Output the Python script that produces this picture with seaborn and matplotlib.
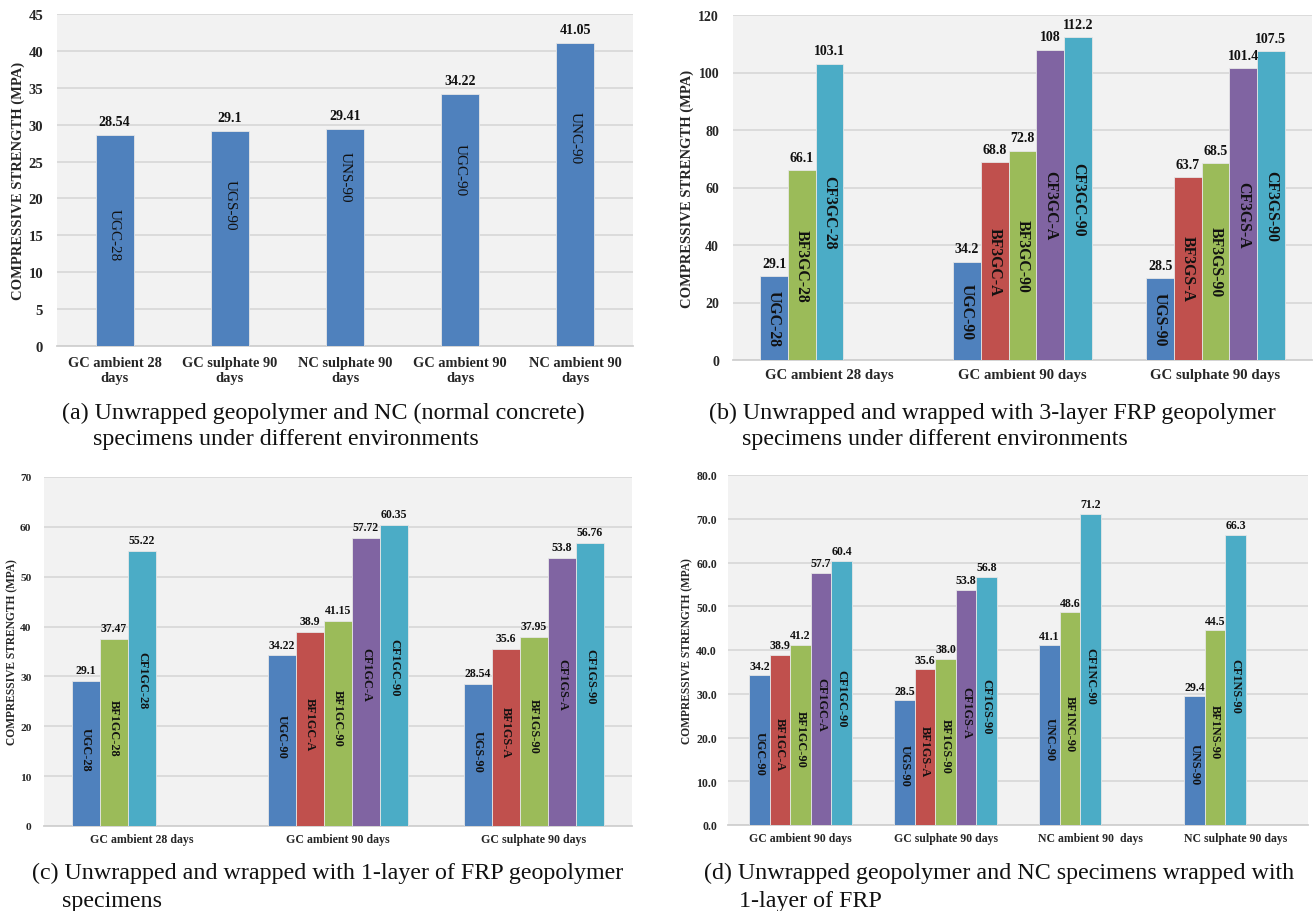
import matplotlib
matplotlib.use("Agg")
import pandas as pd
import matplotlib.pyplot as plt
import seaborn as sns
from matplotlib.ticker import MultipleLocator, FormatStrFormatter


# Data

a_groups = ["GC ambient 28\ndays", "GC sulphate 90\ndays", "NC sulphate 90\ndays",
            "GC ambient 90\ndays", "NC ambient 90\ndays"]
a_names = [["UGC-28"], ["UGS-90"], ["UNS-90"], ["UGC-90"], ["UNC-90"]]
a_values = [[28.54], [29.1], [29.41], [34.22], [41.05]]

b_groups = ["GC ambient 28 days", "GC ambient 90 days", "GC sulphate 90 days"]
b_names = [["UGC-28", "BF3GC-28", "CF3GC-28"],
           ["UGC-90", "BF3GC-A", "BF3GC-90", "CF3GC-A", "CF3GC-90"],
           ["UGS-90", "BF3GS-A", "BF3GS-90", "CF3GS-A", "CF3GS-90"]]
b_values = [[29.1, 66.1, 103.1],
            [34.2, 68.8, 72.8, 108, 112.2],
            [28.5, 63.7, 68.5, 101.4, 107.5]]

c_groups = ["GC ambient 28 days", "GC ambient 90 days", "GC sulphate 90 days"]
c_names = [["UGC-28", "BF1GC-28", "CF1GC-28"],
           ["UGC-90", "BF1GC-A", "BF1GC-90", "CF1GC-A", "CF1GC-90"],
           ["UGS-90", "BF1GS-A", "BF1GS-90", "CF1GS-A", "CF1GS-90"]]
c_values = [[29.1, 37.47, 55.22],
            [34.22, 38.9, 41.15, 57.72, 60.35],
            [28.54, 35.6, 37.95, 53.8, 56.76]]

d_groups = ["GC ambient 90 days", "GC sulphate 90 days", "NC ambient 90  days", "NC sulphate 90 days"]
d_names = [["UGC-90", "BF1GC-A", "BF1GC-90", "CF1GC-A", "CF1GC-90"],
           ["UGS-90", "BF1GS-A", "BF1GS-90", "CF1GS-A", "CF1GS-90"],
           ["UNC-90", "BF1NC-90", "CF1NC-90"],
           ["UNS-90", "BF1NS-90", "CF1NS-90"]]
d_values = [[34.2, 38.9, 41.2, 57.7, 60.4],
            [28.5, 35.6, 38.0, 53.8, 56.8],
            [41.1, 48.6, 71.2],
            [29.4, 44.5, 66.3]]

captions = [
    ["(a) Unwrapped geopolymer and NC (normal concrete)", "specimens under different environments"],
    ["(b) Unwrapped and wrapped with 3-layer FRP geopolymer", "specimens under different environments"],
    ["(c) Unwrapped and wrapped with 1-layer of FRP geopolymer", "specimens"],
    ["(d) Unwrapped geopolymer and NC specimens wrapped with", "1-layer of FRP"],
]

colors = {"U": "#4F81BD", "BF-A": "#C0504D", "BF": "#9BBB59", "CF-A": "#8064A2", "CF": "#4BACC6"}


def kind(name):
    if name.startswith("U"):
        return "U"
    base = name[:2]
    return base + "-A" if name.endswith("-A") else base


# Style

sns.set_style("whitegrid", {"axes.facecolor": "#F2F2F2", "grid.color": "#D9D9D9",
                            "axes.edgecolor": "#D0D0D0"})
plt.rcParams["font.family"] = ["Liberation Serif", "DejaVu Serif"]

W, H = 1315, 912
fig = plt.figure(figsize=(W / 100, H / 100), dpi=100)


def make_axes(l, r, t, b):
    return fig.add_axes([l / W, 1 - b / H, (r - l) / W, (b - t) / H])


def draw_panel(ax, groups, names, values, nslots, width, ymax, ystep, yfmt,
               fs_tick_y, fs_tick_x, fs_ylab, fs_val, fs_name, name_weight,
               val_off, name_pos, ylab_x, xpad, ypad, val_fmt):
    rows = []
    for gi, (g, ns, vs) in enumerate(zip(groups, names, values)):
        for si, (n, v) in enumerate(zip(ns, vs)):
            rows.append({"gi": gi, "group": g, "slot": f"s{si}", "name": n,
                         "value": v, "color": colors[kind(n)]})
    df = pd.DataFrame(rows)
    slots = [f"s{i}" for i in range(nslots)]
    sns.barplot(data=df, x="group", y="value", hue="slot", order=groups,
                hue_order=slots, palette=["#4F81BD"] * nslots, width=width,
                gap=0, dodge=True, saturation=1, legend=False, ax=ax,
                edgecolor="#E6E6E6", linewidth=0.6, zorder=3)

    # recolour each bar and put the labels on it
    for cont, s in zip(ax.containers, slots):
        sub = df[df["slot"] == s].sort_values("gi")
        for patch, row in zip(cont, sub.itertuples()):
            patch.set_facecolor(row.color)
            cx = patch.get_x() + patch.get_width() / 2
            h = patch.get_height()
            ax.annotate(val_fmt(row.value), (cx, h), xytext=(0, val_off),
                        textcoords="offset points", ha="center", va="bottom",
                        fontsize=fs_val, fontweight="bold", color="#111111")
            frac = name_pos[row.gi] if isinstance(name_pos, list) else name_pos
            ax.text(cx, h * frac, row.name, rotation=270, ha="center", va="center",
                    fontsize=fs_name, fontweight=name_weight, color="#111111",
                    zorder=4)

    ax.set_ylim(0, ymax)
    ax.yaxis.set_major_locator(MultipleLocator(ystep))
    ax.yaxis.set_major_formatter(FormatStrFormatter(yfmt))
    ax.grid(axis="x", visible=False)
    ax.grid(axis="y", linewidth=1.3)
    ax.set_axisbelow(True)
    for side in ["left", "right", "top"]:
        ax.spines[side].set_visible(False)
    ax.spines["bottom"].set_linewidth(1.3)
    ax.tick_params(axis="both", length=0)
    ax.tick_params(axis="x", labelsize=fs_tick_x, pad=xpad)
    ax.tick_params(axis="y", labelsize=fs_tick_y, pad=ypad)
    for lab in ax.get_xticklabels() + ax.get_yticklabels():
        lab.set_fontweight("bold")
    ax.set_xlabel("")
    ax.set_ylabel("COMPRESSIVE STRENGTH (MPA)", fontsize=fs_ylab, fontweight="bold",
                  va="center")
    ax.yaxis.set_label_coords(ylab_x, 0.5)


def fmt_g(v):
    return f"{v:g}"


def fmt_1(v):
    return f"{v:.1f}"


# (a)
ax_a = make_axes(57, 633, 15, 347)
draw_panel(ax_a, a_groups, a_names, a_values, 1, 0.33, 45, 5, "%d",
           10.6, 10.4, 10.5, 10.1, 10.9, "normal", 5,
           [0.53, 0.66, 0.78, 0.70, 0.69], (18 - 57) / 576, 7, 10, fmt_g)

# (b)
ax_b = make_axes(733, 1312, 16, 361)
draw_panel(ax_b, b_groups, b_names, b_values, 5, 0.717, 120, 20, "%d",
           10, 10.6, 10.5, 10, 11.3, "bold", 4.5, 0.5, (687 - 733) / 579, 6, 10, fmt_g)

# (c)
ax_c = make_axes(44, 632, 478, 827)
draw_panel(ax_c, c_groups, c_names, c_values, 5, 0.714, 70, 10, "%d",
           8.2, 8.6, 8.3, 8.5, 8.8, "bold", 3.5, 0.53, (12 - 44) / 588, 5, 9, fmt_g)

# (d)
ax_d = make_axes(728, 1308, 476, 826)
draw_panel(ax_d, d_groups, d_names, d_values, 5, 0.71, 80, 10, "%.1f",
           8.5, 8.5, 8.3, 8.6, 8.8, "bold", 2.5, 0.48, (687 - 728) / 580, 5, 8, fmt_1)

# Captions
cap_pos = [((62, 413), (93, 440)), ((709, 413), (742, 440)),
           ((32, 873), (62, 902)), ((704, 873), (739, 902))]
for lines, pos in zip(captions, cap_pos):
    for txt, (x, y) in zip(lines, pos):
        fig.text(x / W, 1 - y / H, txt, ha="left", va="center", fontsize=17.3,
                 color="#111111")

plt.savefig("out.png", dpi=100)
